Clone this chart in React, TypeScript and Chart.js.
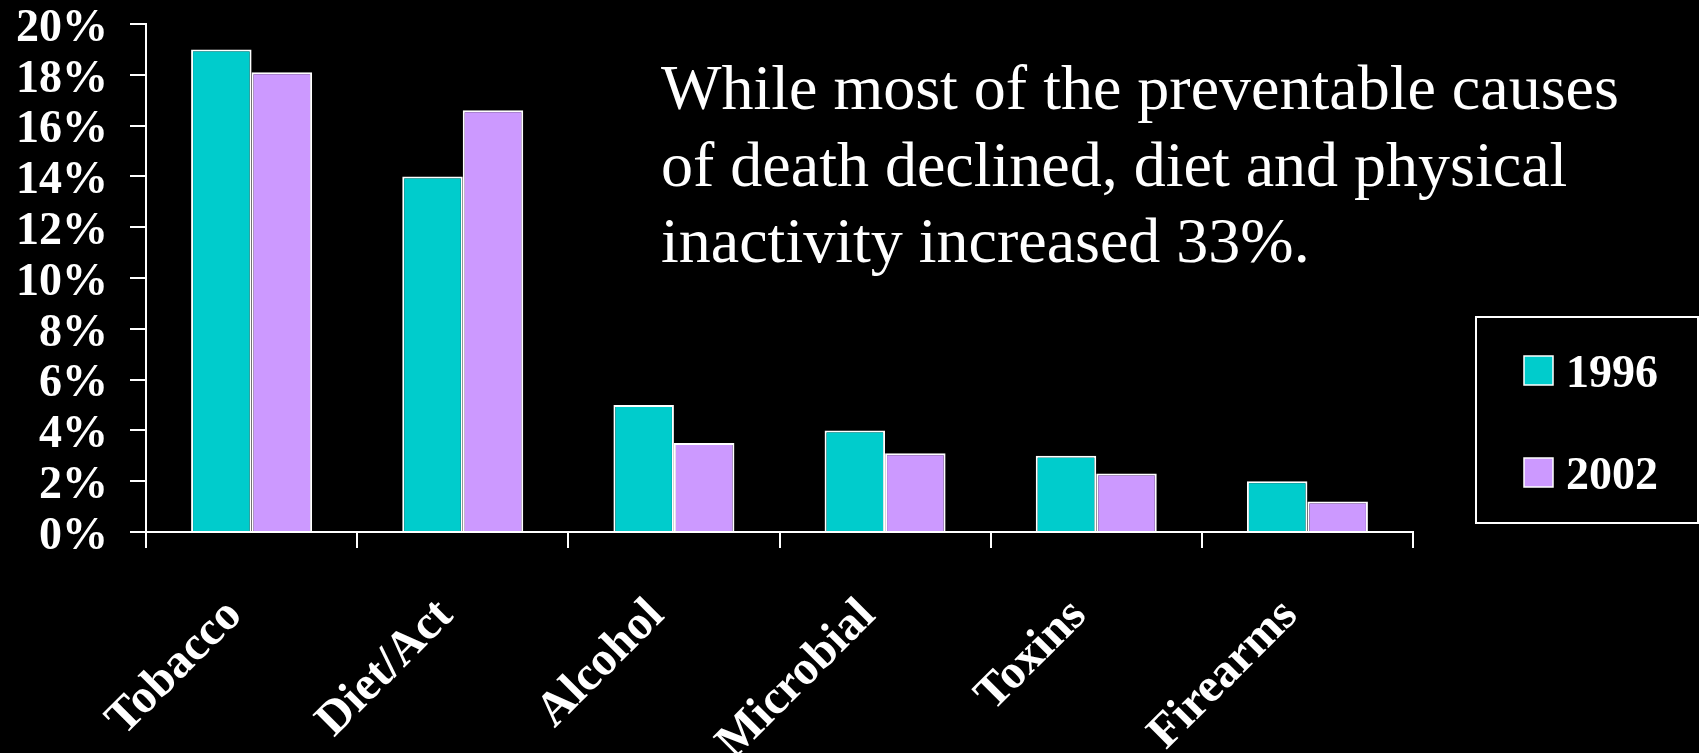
import React, { useEffect, useRef } from "react";
import { Chart, registerables } from "chart.js";

Chart.register(...registerables);

const categories = ["Tobacco", "Diet/Act", "Alcohol", "Microbial", "Toxins", "Firearms"];
const values1996 = [19.0, 14.0, 5.0, 4.0, 3.0, 2.0];
const values2002 = [18.1, 16.6, 3.5, 3.1, 2.3, 1.2];
const seriesLabels = ["1996", "2002"];
const seriesColors = ["#00CCCC", "#CC99FF"];
const yTicks = [0, 2, 4, 6, 8, 10, 12, 14, 16, 18, 20];
const noteLines = [
  "While most of the preventable causes",
  "of death declined, diet and physical",
  "inactivity increased 33%.",
];

const SERIF = '"Liberation Serif", "Times New Roman", serif';

const overlayPlugin = {
  id: "overlay",
  afterDraw(chart: any) {
    const ctx = chart.ctx;
    ctx.save();
    // annotation text
    ctx.fillStyle = "#ffffff";
    ctx.font = `64px ${SERIF}`;
    ctx.textAlign = "left";
    ctx.textBaseline = "alphabetic";
    noteLines.forEach((line, i) => {
      ctx.fillText(line, 661, 109 + i * 76.5);
    });
    // legend box
    ctx.strokeStyle = "#ffffff";
    ctx.lineWidth = 2;
    ctx.strokeRect(1476, 317, 222, 206);
    ctx.font = `bold 46px ${SERIF}`;
    chart.data.datasets.forEach((ds: any, i: number) => {
      const y = 356 + i * 102;
      ctx.fillStyle = ds.backgroundColor;
      ctx.fillRect(1524, y, 29, 29);
      ctx.lineWidth = 1.5;
      ctx.strokeStyle = "#ffffff";
      ctx.strokeRect(1524, y, 29, 29);
      ctx.fillStyle = "#ffffff";
      ctx.fillText(ds.label, 1566, y + 31);
    });
    ctx.restore();
  },
};

export default function App() {
  const ref = useRef<HTMLCanvasElement>(null);

  useEffect(() => {
    document.body.style.margin = "0";
    document.body.style.background = "#000";
    const chart = new Chart(ref.current!, {
      type: "bar",
      data: {
        labels: categories,
        datasets: [
          {
            label: seriesLabels[0],
            data: values1996,
            backgroundColor: seriesColors[0],
            borderColor: "#ffffff",
            borderWidth: 2,
          },
          {
            label: seriesLabels[1],
            data: values2002,
            backgroundColor: seriesColors[1],
            borderColor: "#ffffff",
            borderWidth: 2,
          },
        ],
      },
      options: {
        responsive: false,
        animation: false,
        events: [],
        layout: { padding: { top: 24, right: 286, left: 0, bottom: 0 } },
        datasets: { bar: { categoryPercentage: 0.573, barPercentage: 1.0 } },
        plugins: { legend: { display: false }, tooltip: { enabled: false } },
        scales: {
          x: {
            afterFit: (s: any) => {
              s.height = 221;
              s.paddingLeft = 0;
              s.paddingRight = 0;
            },
            border: { color: "#ffffff", width: 2 },
            grid: {
              offset: true,
              drawOnChartArea: false,
              color: "#ffffff",
              lineWidth: 2,
              tickLength: 16,
            },
            ticks: {
              color: "#ffffff",
              font: { family: SERIF, size: 48, weight: "bold" },
              maxRotation: 45,
              minRotation: 45,
              autoSkip: false,
              padding: 40,
              labelOffset: -17,
            },
          },
          y: {
            min: 0,
            max: 20,
            afterFit: (s: any) => {
              s.width = 146;
              s.paddingTop = 0;
              s.paddingBottom = 0;
            },
            afterBuildTicks: (s: any) => {
              s.ticks = yTicks.map((v) => ({ value: v }));
            },
            border: { color: "#ffffff", width: 2 },
            grid: {
              drawOnChartArea: false,
              color: "#ffffff",
              lineWidth: 2,
              tickLength: 16,
            },
            ticks: {
              color: "#ffffff",
              font: { family: SERIF, size: 46, weight: "bold" },
              padding: 22,
              labelOffset: 5,
              autoSkip: false,
              callback: (v: any) => `${v}%`,
            },
          },
        },
      },
      plugins: [overlayPlugin],
    });
    return () => chart.destroy();
  }, []);

  return (
    <div style={{ width: 1699, height: 753, background: "#000", overflow: "hidden" }}>
      <canvas ref={ref} width={1699} height={753} style={{ display: "block" }} />
    </div>
  );
}
